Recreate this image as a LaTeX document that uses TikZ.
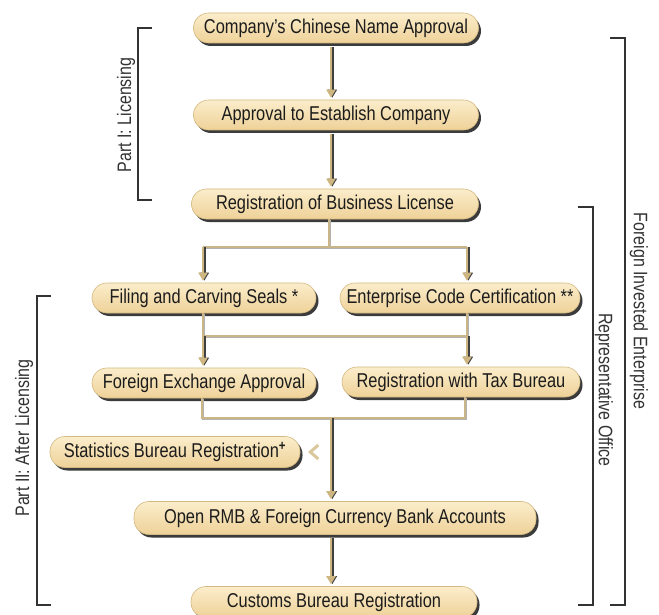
\documentclass[tikz,border=0pt]{standalone}
\usepackage{fontspec}
\setmainfont{Liberation Sans}[FakeStretch=0.82]
\usetikzlibrary{shadows,arrows.meta,calc}
\definecolor{boxtop}{HTML}{FBEDCB}
\definecolor{boxbot}{HTML}{EED198}
\definecolor{boxedge}{HTML}{D3B981}
\definecolor{tancol}{HTML}{CDB680}
\definecolor{conncol}{HTML}{C9B587}
\definecolor{txtcol}{HTML}{1C1C1C}
\definecolor{brkcol}{HTML}{333333}
\definecolor{chevcol}{HTML}{D9C89C}
\begin{document}
\begin{tikzpicture}[x=1pt,y=-1pt,
  stepbox/.style={rectangle, rounded corners=15pt, minimum height=30pt, inner sep=0pt,
    top color=boxtop, bottom color=boxbot, draw=boxedge, line width=0.6pt,
    drop shadow={shadow xshift=2.5pt, shadow yshift=-3pt, fill=black!85, opacity=0.9},
    text=txtcol, font=\fontsize{20}{22}\selectfont},
  conn/.style={draw=conncol, line width=1.8pt,
    preaction={draw=black!30, line width=1.8pt, transform canvas={xshift=0.6pt,yshift=-0.8pt}}},
  bigarrow/.style={draw=tancol, line width=2.6pt, -{Triangle[width=9pt,length=8pt]}, shorten >=2pt,
    preaction={draw=black!75, line width=2.6pt, -{Triangle[width=9pt,length=8pt]}, shorten >=2pt,
      transform canvas={xshift=1.3pt}}},
  frombox/.style={shorten <=3.5pt},
  brk/.style={draw=brkcol, line width=1.3pt},
  lbl/.style={text=brkcol, inner sep=0pt, font=\fontsize{19.5}{21}\selectfont}]
\useasboundingbox (0,0) rectangle (659,615);
\clip (0,0) rectangle (659,615);
\fill[white] (0,0) rectangle (659,615);

\coordinate (colx) at (331,0);

% boxes
\node[stepbox, minimum width=285pt] (comp) at (336,28) {Company's Chinese Name Approval};
\node[stepbox, minimum width=285pt] (appr) at (336,115) {Approval to Establish Company};
\node[stepbox, minimum width=287pt] (reg)  at (335,204) {Registration of Business License};
\node[stepbox, minimum width=224pt] (fil)  at (204,298) {Filing and Carving Seals *};
\node[stepbox, minimum width=240pt] (ent)  at (460,298) {Enterprise Code Certification **};
\node[stepbox, minimum width=224pt] (fx)   at (204,383) {Foreign Exchange Approval};
\node[stepbox, minimum width=238pt] (tax)  at (461,382) {Registration with Tax Bureau};
\node[stepbox, minimum width=250pt, minimum height=31pt] (stat) at (175,452) {Statistics Bureau Registration\textsuperscript{\textbf{+}}};
\node[stepbox, minimum width=402pt, minimum height=33pt] (open) at (335,518) {Open RMB \& Foreign Currency Bank Accounts};
\node[stepbox, minimum width=286pt, minimum height=31pt] (cust) at (334,602) {Customs Bureau Registration};

% top column arrows
\draw[bigarrow, frombox] (comp.south -| colx) -- (appr.north -| colx);
\draw[bigarrow, frombox] (appr.south -| colx) -- (reg.north -| colx);

% split after registration
\coordinate (a1) at (203,247);
\coordinate (b1) at (467,247);
\draw[conn] ([xshift=-6pt]reg.south) -- ([xshift=-6pt]reg.south |- a1);
\draw[conn] (a1) -- (b1);
\draw[bigarrow] (a1) -- (a1 |- fil.north);
\draw[bigarrow] (b1) -- (b1 |- ent.north);

% merge / split 2
\coordinate (a2) at (203,336);
\coordinate (b2) at (467,336);
\draw[conn] (a2 |- fil.south) -- (a2) -- (b2) -- (b2 |- ent.south);
\draw[bigarrow] (a2) -- (a2 |- fx.north);
\draw[bigarrow] (b2) -- (b2 |- tax.north);

% merge 3
\coordinate (a3) at (202,418);
\coordinate (b3) at (465,418);
\coordinate (m3) at (331,418);
\draw[conn] (a3 |- fx.south) -- (a3) -- (b3) -- (b3 |- tax.south);
\draw[bigarrow] (m3) -- (m3 |- open.north);
\draw[bigarrow, frombox] (open.south -| m3) -- (m3 |- cust.north);

% chevron toward statistics
\draw[chevcol, line width=3pt, line join=miter] ($(stat.east)+(18,-7)$) -- ++(-8,7) -- ++(8,7);

% brackets
\draw[brk] (152,28) -- (138,28) -- (138,200) -- (152,200);
\node[lbl, rotate=90] (p1) at (126,115) {Part I: Licensing};
\draw[brk] (51,296) -- (37,296) -- (37,605) -- (51,605);
\node[lbl, rotate=90] (p2) at (24,438) {Part II: After Licensing};
\draw[brk] (578,207) -- (593,207) -- (593,605) -- (578,605);
\node[lbl, rotate=-90] (ro) at (604,390) {Representative Office};
\draw[brk] (610,38) -- (625,38) -- (625,605) -- (610,605);
\node[lbl, rotate=-90] (fie) at (639,311) {Foreign Invested Enterprise};
\end{tikzpicture}
\end{document}
